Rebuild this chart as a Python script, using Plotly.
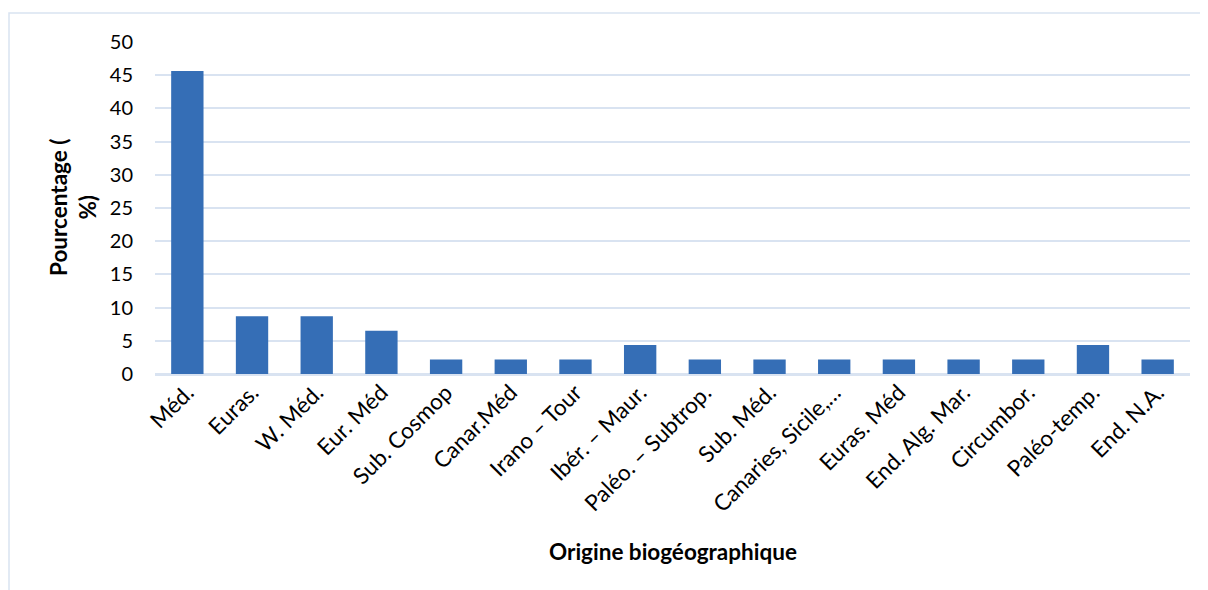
import plotly.graph_objects as go

categories = ["Méd.", "Euras.", "W. Méd.", "Eur. Méd", "Sub. Cosmop", "Canar.Méd",
              "Irano – Tour", "Ibér. – Maur.", "Paléo. – Subtrop.", "Sub. Méd.",
              "Canaries, Sicile,…", "Euras. Méd", "End. Alg. Mar.", "Circumbor.",
              "Paléo-temp.", "End. N.A."]
values = [45.65, 8.70, 8.70, 6.52, 2.17, 2.17, 2.17, 4.35, 2.17, 2.17,
          2.17, 2.17, 2.17, 2.17, 4.35, 2.17]
y_ticks = [0, 5, 10, 15, 20, 25, 30, 35, 40, 45, 50]

font_family = "Lato, 'Open Sans', sans-serif"
grid_color = "#d9e3f1"

W, H = 1200, 582
L, R, T, B = 147, 18, 34, 216
PW, PH = W - L - R, H - T - B

fig = go.Figure(go.Bar(
    x=categories, y=values,
    marker=dict(color="#356eb6", line=dict(width=0)),
    width=0.5,
))

fig.update_layout(
    width=W, height=H,
    paper_bgcolor="white", plot_bgcolor="white",
    margin=dict(l=L, r=R, t=T, b=B, autoexpand=False),
    showlegend=False,
    font=dict(family=font_family, color="black"),
)
fig.update_xaxes(
    tickangle=-45, tickfont=dict(size=22.5),
    showgrid=False, showline=False, ticks="",
)
fig.update_yaxes(
    range=[0, 50], tickvals=y_ticks, tickfont=dict(size=20),
    showgrid=True, gridcolor=grid_color, gridwidth=1.5,
    zeroline=True, zerolinecolor=grid_color, zerolinewidth=3,
    showline=False, ticks="", ticklabelstandoff=21,
)
fig.add_annotation(text="<b>Origine biogéographique</b>", xref="paper", yref="paper",
                   x=(673 - 8 - L) / PW, y=-(543 - (H - B)) / PH,
                   xanchor="center", yanchor="middle", showarrow=False,
                   font=dict(size=22.5))
fig.add_annotation(text="<b>Pourcentage (<br>%)</b>", xref="paper", yref="paper",
                   x=(65 - L) / PW, y=0.5, textangle=-90,
                   xanchor="center", yanchor="middle", showarrow=False,
                   font=dict(size=22.5))
fig.add_shape(type="rect", xref="paper", yref="paper",
              x0=(1 - L) / PW, x1=(W + 20 - L) / PW, y0=-1.0, y1=1.0 + (T - 5) / PH,
              line=dict(color=grid_color, width=1.5), layer="below")

fig.write_html("out.html")
